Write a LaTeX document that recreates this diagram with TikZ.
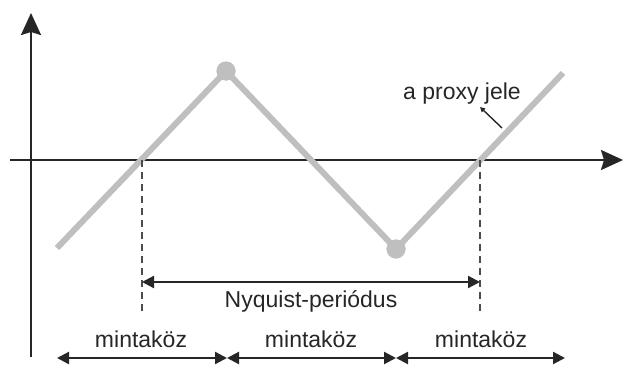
\documentclass[tikz,border=0pt]{standalone}
\usepackage{fontspec}
\setmainfont{Liberation Sans}
\usetikzlibrary{arrows.meta}
\begin{document}
\begin{tikzpicture}[x=1pt,y=-1pt,
  axis/.style={line width=2.4pt,draw=black!85,-{Stealth[length=22pt,width=20pt,inset=3pt]}},
  sig/.style={line width=6pt,draw=black!25},
  dot/.style={circle,fill=black!25,inner sep=0pt,minimum size=19pt},
  dim/.style={line width=2.2pt,draw=black!85,{Triangle[length=12pt,width=12pt]}-{Triangle[length=12pt,width=12pt]}},
  dline/.style={line width=1.4pt,draw=black!70,dash pattern=on 7pt off 5pt},
  lbl/.style={font=\fontsize{23}{25}\selectfont,text=black!85,inner sep=0pt,anchor=base}]
\useasboundingbox (0,0) rectangle (623,367);
% axes
\coordinate (yb) at (31,357);
\coordinate (yt) at (31,13);
\coordinate (xl) at (10,160);
\coordinate (xr) at (623,160);
\draw[axis] (yb) -- (yt);
\draw[axis] (xl) -- (xr);
% signal
\coordinate (s0) at (57,248);
\coordinate (c1) at (142,160);
\coordinate (c2) at (480,160);
\coordinate (s3) at (563,73);
\node[dot] (p1) at (226,71) {};
\node[dot] (p2) at (396,249) {};
\draw[sig] (s0) -- (p1.center) -- (p2.center) -- (s3);
\node[dot] at (226,71) {};
\node[dot] at (396,249) {};
% dashed verticals
\coordinate (d1) at (142,313);
\coordinate (d2) at (480,313);
\draw[dline] (c1) -- (d1);
\draw[dline] (c2) -- (d2);
% Nyquist
\coordinate (n1) at (142,282);
\coordinate (n2) at (480,282);
\draw[dim] (n1) -- (n2);
\node[lbl] (nl) at (311,307) {Nyquist-periódus};
% bottom
\coordinate (b0) at (57,358);
\coordinate (b1) at (227,358);
\coordinate (b2) at (396,358);
\coordinate (b3) at (565,358);
\draw[dim] (b0) -- (b1);
\draw[dim] (b1) -- (b2);
\draw[dim] (b2) -- (b3);
\node[lbl] (m1) at (141,347) {mintaköz};
\node[lbl] (m2) at (311,347) {mintaköz};
\node[lbl] (m3) at (481,347) {mintaköz};
% label
\node[lbl] (pl) at (462,99) {a proxy jele};
\coordinate (pa) at (502,128);
\coordinate (pb) at (480,107);
\draw[line width=1.4pt,draw=black!85,-{Triangle[length=5pt,width=5pt]}] (pa) -- (pb);
\end{tikzpicture}
\end{document}
